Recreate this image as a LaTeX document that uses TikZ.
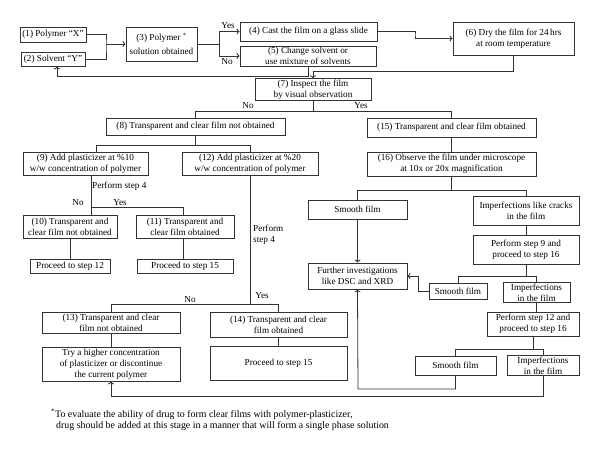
\documentclass[tikz,border=0pt]{standalone}
\usepackage{fontspec}
\setmainfont{Liberation Serif}
\usetikzlibrary{arrows.meta,calc}
\newcommand{\fsz}{\fontsize{9.2}{11}\selectfont}
\newcommand{\fnsz}{\fontsize{9.9}{11.5}\selectfont}
\tikzset{
  box/.style={draw=black!80, line width=0.8pt, align=center, inner sep=1pt, font=\fsz},
  lbl/.style={inner sep=0pt, font=\fsz},
  conn/.style={draw=black!80, line width=0.8pt},
  arr/.style={conn, -{To[length=3pt,width=6pt]}},
}
\begin{document}
\begin{tikzpicture}[x=1pt,y=-1pt]
\path[use as bounding box, fill=white] (0,0) rectangle (600,454);
% nodes
\node[box, minimum width=66, minimum height=15] (n1) at (53,34.5) {(1) Polymer “X”};
\node[box, minimum width=64, minimum height=14] (n2) at (53,59) {(2) Solvent “Y”};
\node[box, minimum width=71, minimum height=34] (n3) at (161.5,44) {(3) Polymer \textsuperscript{*}\\[3pt] solution obtained};
\node[box, minimum width=137, minimum height=19] (n4) at (308.5,31.5) {(4) Cast the film on a glass slide};
\node[box, minimum width=136, minimum height=20] (n5) at (308,56) {(5) Change solvent or\\ use mixture of solvents};
\node[box, minimum width=121, minimum height=33] (n6) at (513.5,38.5) {(6) Dry the film for 24\,hrs\\ at room temperature};
\node[box, minimum width=116, minimum height=19] (n7) at (313,89.5) {(7) Inspect the film\\ by visual observation};
\node[box, minimum width=179, minimum height=17] (n8) at (195.5,126.5) {(8) Transparent and clear film not obtained};
\node[box, minimum width=169, minimum height=19] (n15) at (451.5,127.5) {(15) Transparent and clear film obtained};
\node[box, minimum width=125, minimum height=23] (n9) at (85.5,163.5) {(9) Add plasticizer at \%10\\ w/w concentration of polymer};
\node[box, minimum width=136, minimum height=23] (n12) at (250,163.5) {(12) Add plasticizer at \%20\\ w/w concentration of polymer};
\node[box, minimum width=169, minimum height=24] (n16) at (451.5,164) {(16) Observe the film under microscope\\ at 10x or 20x magnification};
\node[box, minimum width=94, minimum height=23] (n10) at (70,226.5) {(10) Transparent and\\ clear film not obtained};
\node[box, minimum width=98, minimum height=23] (n11) at (185,226.5) {(11) Transparent and\\ clear film obtained};
\node[box, minimum width=80, minimum height=14] (p12) at (70,266) {Proceed to step 12};
\node[box, minimum width=96, minimum height=14] (p15) at (185,266) {Proceed to step 15};
\node[box, minimum width=99, minimum height=19] (s1) at (357.5,209.5) {Smooth film};
\node[box, minimum width=106, minimum height=29] (i1) at (526,210.5) {Imperfections like cracks\\ in the film};
\node[box, minimum width=99, minimum height=26] (fur) at (357.5,276) {Further investigations\\ like DSC and XRD};
\node[box, minimum width=106, minimum height=29] (perf9) at (526,249.5) {Perform step 9 and\\ proceed to step 16};
\node[box, minimum width=58, minimum height=16] (s2) at (458,291) {Smooth film};
\node[box, minimum width=67, minimum height=19] (i2) at (536.5,292.5) {Imperfections\\ in the film};
\node[box, minimum width=92, minimum height=24] (perf12) at (533,324) {Perform step 12 and\\ proceed to step 16};
\node[box, minimum width=81, minimum height=19] (s3) at (455.5,365.5) {Smooth film};
\node[box, minimum width=72, minimum height=19] (i3) at (543,365.5) {Imperfections\\ in the film};
\node[box, minimum width=138, minimum height=21] (n13) at (111,322.5) {(13) Transparent and clear\\ film not obtained};
\node[box, minimum width=137, minimum height=25] (n14) at (278.5,324.5) {(14) Transparent and clear\\ film obtained};
\node[box, minimum width=138, minimum height=34] (try) at (111,364) {Try a higher concentration\\ of plasticizer or discontinue\\ the current polymer};
\node[box, minimum width=137, minimum height=34] (p15b) at (278.5,363) {Proceed to step 15};
% labels
\node[lbl] (lyes1) at (228,26) {Yes};
\node[lbl] (lno1) at (227,62) {No};
\node[lbl] (lno2) at (248,106) {No};
\node[lbl] (lyes2) at (361,106) {Yes};
\node[lbl, anchor=west] (lps4) at (92,186) {Perform step 4};
\node[lbl] (lno3) at (78,203) {No};
\node[lbl] (lyes3) at (120,203) {Yes};
\node[lbl, anchor=west, align=left] (lps4b) at (253,234.5) {Perform\\ step 4};
\node[lbl] (lno4) at (190,300) {No};
\node[lbl] (lyes4) at (262,296) {Yes};
\node[lbl, anchor=north west, align=left, font=\fnsz] (foot) at (51,409) {\textsuperscript{*}To evaluate the ability of drug to form clear films with polymer-plasticizer,\\ \hspace{5pt}drug should be added at this stage in a manner that will form a single phase solution};
% junctions
\coordinate (j1) at (106,44);
\coordinate (j2) at (219,44);
\coordinate (j3) at (415,35);
\coordinate (j4) at (313,71);
\coordinate (j5) at (57,76);
\coordinate (j6) at (313,111);
\coordinate (j7) at (96,145);
\coordinate (j9) at (91,207);
\coordinate (j10) at (183,207);
\coordinate (j11) at (250,304);
\coordinate (j12) at (451,190);
\coordinate (j13) at (418,276);
\coordinate (j14) at (526,276);
\coordinate (j15) at (533,349);
\coordinate (j16) at (358,389);
\coordinate (j17) at (111,396);
% connectors
\draw[conn] (n1.east) -| (j1) |- (n2.east);
\draw[arr] (j1) -- (n3.west);
\draw[conn] (n3.east) -- (j2);
\draw[arr] (j2) |- (n4.west);
\draw[arr] (j2) |- (n5.west);
\draw[arr] (n4.east) -| (j3) |- (n6.west);
\draw[arr] (n6.south) |- (j4) -- (n7.north);
\draw[arr] (n5.south) |- (j5) -- (j5 |- n2.south);
\draw[conn] (n7.south) -- (j6);
\draw[conn] (n8.north) -- (n8.north |- j6) -- (n15.north |- j6) -- (n15.north);
\draw[conn] (n8.south) -- (n8.south |- j7);
\draw[conn] (n9.north -| j7) -- (j7) -- (n12.north |- j7) -- (n12.north);
\draw[conn] (n9.south -| j9) -- (n10.north -| j9);
\draw[conn] (j9) -- (j10) -- (n11.north -| j10);
\draw[conn] (n10.south) -- (p12.north);
\draw[conn] (n11.south -| j10) -- (p15.north -| j10);
\draw[conn] (n12.south) -- (j11);
\draw[conn] (n13.north) -- (n13.north |- j11) -- (n14.north |- j11) -- (n14.north);
\draw[conn] (n13.south) -- (try.north);
\draw[conn] (n14.south) -- (p15b.north);
\draw[conn] (n15.south) -- (n16.north);
\draw[conn] (n16.south -| j12) -- (j12);
\draw[conn] (s1.north) -- (s1.north |- j12) -- (i1.north |- j12) -- (i1.north);
\draw[arr] (s1.south) -- (fur.north);
\draw[conn] (i1.south) -- (perf9.north);
\draw[conn] (perf9.south) -- (j14);
\draw[conn] (s2.north) -- (s2.north |- j14) -- (i2.north |- j14) -- (i2.north);
\draw[arr] (s2.west) -| (j13) -- (fur.east);
\draw[conn] (i2.south) -- (i2.south |- perf12.north);
\draw[conn] (perf12.south) -- (j15);
\draw[conn] (s3.north) -- (s3.north |- j15) -- (i3.north |- j15) -- (i3.north);
\draw[arr] (s3.south) |- (j16) -- (fur.south);
\draw[arr] (i3.south) |- (j17) -- (try.south);
\end{tikzpicture}
\end{document}
